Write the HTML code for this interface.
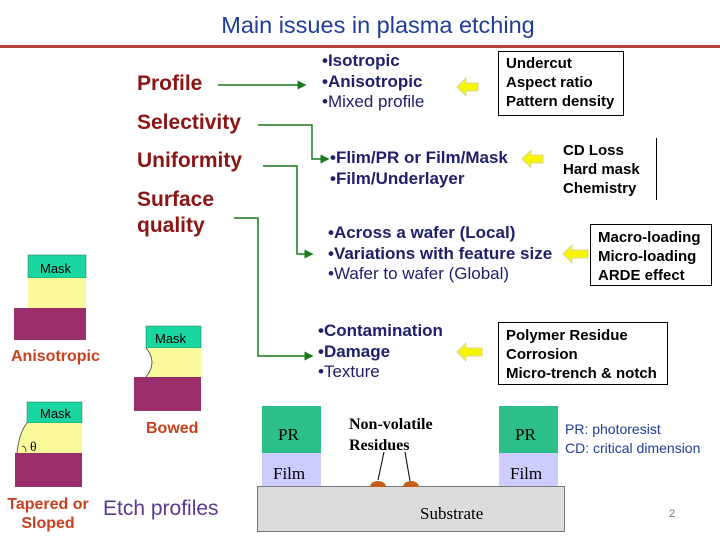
<!DOCTYPE html>
<html><head><meta charset="utf-8"><style>
body{margin:0;width:720px;height:540px;background:#fff;position:relative;overflow:hidden;font-family:"Liberation Sans",Arial,sans-serif}
.a{position:absolute;white-space:nowrap}
.h{color:#8b1414;font-weight:bold;font-size:21px}
.b{color:#20206a;font-size:17px;line-height:20.5px}
.k{color:#000;font-weight:bold;font-size:15px;line-height:19px}
.r{color:#c8401e;font-weight:bold;font-size:16px}
.m{font-size:13px;color:#000}
</style></head><body>
<div class="a" style="left:0;top:12px;width:756px;text-align:center;font-size:23.5px;color:#1f3c99;font-family:'Liberation Sans',sans-serif">Main issues in plasma etching</div>
<div class="a" style="left:0;top:45px;width:720px;height:3px;background:#b5413f"></div>

<div class="a h" style="left:137px;top:72px">Profile</div>
<div class="a h" style="left:137px;top:111px">Selectivity</div>
<div class="a h" style="left:137px;top:149px">Uniformity</div>
<div class="a h" style="left:137px;top:187px;line-height:26px">Surface<br>quality</div>

<svg class="a" style="left:0;top:0" width="720" height="540">
<defs><marker id="g" markerWidth="6" markerHeight="6" refX="5" refY="3" orient="auto"><path d="M0,0L6,3L0,6z" fill="#1a7a1a"/></marker></defs>
<g stroke="#1a7a1a" stroke-width="1.5" fill="none" marker-end="url(#g)">
<path d="M218,85H305"/>
<path d="M258,125H312V159H328"/>
<path d="M263,166H297V254H312"/>
<path d="M234,218H258V356H312"/>
</g>
<g fill="#f5f500" stroke="#d8d8a0" stroke-width="1">
<path d="M457,87l9,-9v5h12v8h-12v5z"/>
<path d="M522,159l9,-9v5h12v8h-12v5z"/>
<path d="M563,254l9,-9v5h16v8h-16v5z"/>
<path d="M457,352l9,-9v5h16v8h-16v5z"/>
</g>
<g stroke="#000" fill="none" stroke-width="1">
<rect x="498.5" y="51.5" width="125" height="64"/>
<path d="M656.5,138V200"/>
<rect x="590.5" y="224.5" width="121" height="61"/>
<rect x="498.5" y="322.5" width="169" height="62"/>
</g>
<rect x="28" y="255" width="58" height="23" fill="#1ad6a0" stroke="#2a6a50" stroke-width=".5"/>
<rect x="28" y="278" width="58" height="30" fill="#fafa9b"/>
<rect x="14" y="308" width="72" height="32" fill="#9b2f6b"/>
<rect x="146" y="326" width="55" height="22" fill="#1ad6a0" stroke="#2a6a50" stroke-width=".5"/>
<path d="M146,348H201V377H146Q158,362 146,348z" fill="#fafa9b"/>
<path d="M146,348Q158,362 146,377" stroke="#444" fill="none" stroke-width=".8"/>
<rect x="134" y="377" width="67" height="34" fill="#9b2f6b"/>
<rect x="27" y="402" width="55" height="21" fill="#1ad6a0" stroke="#2a6a50" stroke-width=".5"/>
<path d="M27,423H82V453H17Q19,433 27,423z" fill="#fafa9b"/>
<path d="M27,423Q19,433 17,453" stroke="#444" fill="none" stroke-width=".8"/>
<path d="M22,446Q26,446 26,452" stroke="#222" fill="none" stroke-width=".8"/>
<rect x="15" y="453" width="67" height="34" fill="#9b2f6b"/>
<rect x="257.5" y="486.5" width="307" height="45" fill="#dcdcdc" stroke="#777"/>
<rect x="262" y="406" width="59" height="47" fill="#2bc08a"/>
<rect x="262" y="453" width="59" height="33" fill="#ccccff"/>
<rect x="499" y="406" width="59" height="47" fill="#2bc08a"/>
<rect x="499" y="453" width="59" height="33" fill="#ccccff"/>
<path d="M370,487a8,6 0 0 1 16,0z" fill="#c06018"/>
<path d="M403,487a8,6 0 0 1 16,0z" fill="#c06018"/>
<g stroke="#000" stroke-width="1"><path d="M384,452L378,480"/><path d="M405,452L410,481"/></g>
<g font-family="Liberation Serif,serif" font-size="17" fill="#000">
<text x="278" y="440">PR</text><text x="515" y="440">PR</text>
<text x="273" y="479">Film</text><text x="510" y="479">Film</text>
<text x="420" y="519">Substrate</text>
<text x="349" y="429" font-weight="bold" font-size="16">Non-volatile</text>
<text x="349" y="450" font-weight="bold" font-size="16">Residues</text>
<text x="30" y="451" font-size="14">θ</text>
</g>
</svg>

<div class="a b" style="left:322px;top:51px"><b>•Isotropic</b><br><b>•Anisotropic</b><br>•Mixed profile</div>
<div class="a b" style="left:330px;top:148px"><b>•Flim/PR or Film/Mask</b><br><b>•Film/Underlayer</b></div>
<div class="a b" style="left:328px;top:223px"><b>•Across a wafer (Local)</b><br><b>•Variations with feature size</b><br>•Wafer to wafer (Global)</div>
<div class="a b" style="left:318px;top:321px"><b>•Contamination</b><br><b>•Damage</b><br>•Texture</div>

<div class="a k" style="left:506px;top:54px">Undercut<br>Aspect ratio<br>Pattern density</div>
<div class="a k" style="left:563px;top:141px">CD Loss<br>Hard mask<br>Chemistry</div>
<div class="a k" style="left:598px;top:228px">Macro-loading<br>Micro-loading<br>ARDE effect</div>
<div class="a k" style="left:506px;top:326px">Polymer Residue<br>Corrosion<br>Micro-trench &amp; notch</div>

<div class="a m" style="left:40px;top:261px">Mask</div>
<div class="a m" style="left:155px;top:331px">Mask</div>
<div class="a m" style="left:40px;top:406px">Mask</div>
<div class="a r" style="left:11px;top:348px">Anisotropic</div>
<div class="a r" style="left:146px;top:420px">Bowed</div>
<div class="a r" style="left:0;top:495px;width:96px;text-align:center;line-height:19px">Tapered or<br>Sloped</div>
<div class="a" style="left:103px;top:497px;font-size:21px;color:#5b3a8e">Etch profiles</div>

<div class="a" style="left:565px;top:420px;font-size:14px;color:#1f3c99;line-height:19px">PR: photoresist<br>CD: critical dimension</div>
<div class="a" style="left:669px;top:508px;font-size:11px;color:#777">2</div>
</body></html>
